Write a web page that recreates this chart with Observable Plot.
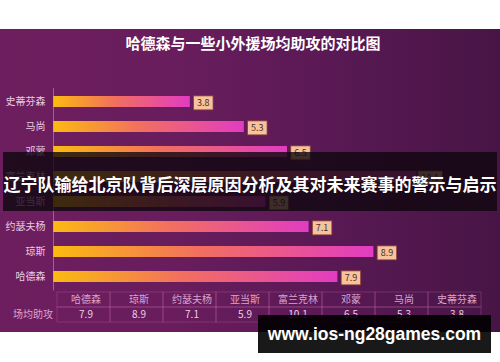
<!DOCTYPE html>
<html>
<head>
<meta charset="utf-8">
<script src="https://cdn.jsdelivr.net/npm/d3@7"></script>
<script src="https://cdn.jsdelivr.net/npm/@observablehq/plot@0.6"></script>
<style>
  html, body { margin: 0; padding: 0; background: #ffffff; }
  #wrap { position: relative; width: 500px; height: 362px; overflow: hidden; font-family: "Noto Sans CJK SC", "Noto Sans", sans-serif; }
  #panel { position: absolute; left: 0; top: 29px; width: 500px; height: 303px;
    background: linear-gradient(90deg, #6d1e5e 0%, #691d5c 35%, #5a1955 65%, #471545 100%); }
  #title { position: absolute; left: 0; top: 33px; width: 506px; text-align: center; color: #ffffff;
    font-size: 15px; font-weight: bold; line-height: 20px; }
  #bars, #table { position: absolute; left: 0; }
  #bars { top: 0; }
  #table { top: 292px; }
  #banner { position: absolute; left: 3px; top: 152px; width: 494px; height: 59px; background: rgba(14, 6, 14, 0.8);
    color: #ffffff; font-size: 17px; font-weight: bold; line-height: 59px; text-align: center; white-space: nowrap; letter-spacing: 0px; }
  #banner span { position: relative; top: 2px; }
  #mark { position: absolute; left: 258px; top: 315px; width: 233px; height: 38px; background: rgba(0, 0, 0, 0.9);
    color: #ffffff; font-family: "Liberation Sans", Arial, sans-serif; font-weight: bold; font-size: 17.5px; line-height: 38px; text-align: center; white-space: nowrap; }
</style>
</head>
<body>
<div id="wrap">
  <div id="panel"></div>
  <div id="title"></div>
  <div id="bars"></div>
  <div id="table"></div>
  <div id="banner"><span></span></div>
  <div id="mark"></div>
</div>
<script>
// ---- data ----
const chartTitle = "哈德森与一些小外援场均助攻的对比图";
const players = ["史蒂芬森", "马尚", "邓蒙", "富兰克林", "亚当斯", "约瑟夫杨", "琼斯", "哈德森"];
const assists = [3.8, 5.3, 6.5, 10.1, 5.9, 7.1, 8.9, 7.9];
const tableOrder = ["哈德森", "琼斯", "约瑟夫杨", "亚当斯", "富兰克林", "邓蒙", "马尚", "史蒂芬森"];
const tableRowLabel = "场均助攻";
const bannerText = "辽宁队输给北京队背后深层原因分析及其对未来赛事的警示与启示";
const watermarkText = "www.ios-ng28games.com";

const data = players.map((name, i) => ({ name, assists: assists[i] }));
const byName = new Map(data.map(d => [d.name, d.assists]));

document.getElementById("title").textContent = chartTitle;
document.querySelector("#banner span").textContent = bannerText;
document.getElementById("mark").textContent = watermarkText;

const fontFamily = '"Noto Sans CJK SC", "Noto Sans", sans-serif';

// ---- bar chart ----
const bars = Plot.plot({
  width: 500,
  height: 295,
  marginLeft: 53,
  marginRight: 15,
  marginTop: 88,
  marginBottom: 4.6,
  style: { background: "transparent", fontFamily, fontSize: "10px", color: "#e8cce2", overflow: "visible" },
  x: { domain: [0, 12], axis: null },
  y: { domain: players, paddingInner: 0.565, paddingOuter: 0.2825, axis: null },
  marks: [
    Plot.barX(data, { x: "assists", y: "name", fill: "url(#barGrad)" }),
    Plot.ruleX([0], { stroke: "#c98bb8", strokeOpacity: 0.6 }),
    Plot.axisY({ tickSize: 0, tickPadding: 8, label: null, fontSize: 10 }),
    Plot.text(data, { x: "assists", y: "name", text: d => d.assists.toFixed(1), dx: 13, dy: 1.5,
      fill: "#4a2c28", fontSize: 9, className: "vlabel" })
  ]
});
document.getElementById("bars").appendChild(bars);

const svgB = d3.select(bars);
const grad = svgB.insert("defs", ":first-child").append("linearGradient")
  .attr("id", "barGrad").attr("x1", "0").attr("x2", "1").attr("y1", "0").attr("y2", "0");
grad.append("stop").attr("offset", "0%").attr("stop-color", "#fbbb10");
grad.append("stop").attr("offset", "45%").attr("stop-color", "#f2705e");
grad.append("stop").attr("offset", "100%").attr("stop-color", "#e23cc2");

// boxes behind value labels (same local coordinates as each text)
svgB.selectAll("g.vlabel text").each(function () {
  const bb = this.getBBox();
  const w = bb.width + 7, h = 14;
  const cx = bb.x + bb.width / 2, cy = bb.y + bb.height / 2;
  const r = d3.select(this.parentNode).insert("rect", () => this)
    .attr("x", cx - w / 2).attr("y", cy - h / 2).attr("width", w).attr("height", h)
    .attr("fill", "#f7c39d").attr("stroke", "#8e3f35").attr("stroke-width", 0.8);
  const t = this.getAttribute("transform");
  if (t) r.attr("transform", t);
});

// ---- table ----
const cols = ["", ...tableOrder];
const rows = ["name", "value"];
const cells = [];
for (const c of tableOrder) for (const r of rows) cells.push({ c, r });
const tableTexts = [
  ...tableOrder.map(n => ({ c: n, r: "name", t: n, kind: "name" })),
  ...tableOrder.map(n => ({ c: n, r: "value", t: byName.get(n).toFixed(1), kind: "value" })),
  { c: "", r: "value", t: tableRowLabel, kind: "name" }
];

const table = Plot.plot({
  width: 500,
  height: 30,
  marginLeft: 0,
  marginRight: 15,
  marginTop: 0,
  marginBottom: 0,
  style: { background: "transparent", fontFamily, fontSize: "10px", overflow: "visible" },
  x: { domain: cols, padding: 0, axis: null },
  y: { domain: rows, padding: 0, axis: null },
  marks: [
    Plot.cell(cells, { x: "c", y: "r", fill: "none", stroke: "#d070b8", strokeOpacity: 0.28, inset: 0 }),
    Plot.text(tableTexts, { x: "c", y: "r", text: "t", fontSize: 10,
      fill: d => d.kind === "name" ? "#dca2cf" : "#ead0e8", dx: 2 })
  ]
});
document.getElementById("table").appendChild(table);
</script>
</body>
</html>
